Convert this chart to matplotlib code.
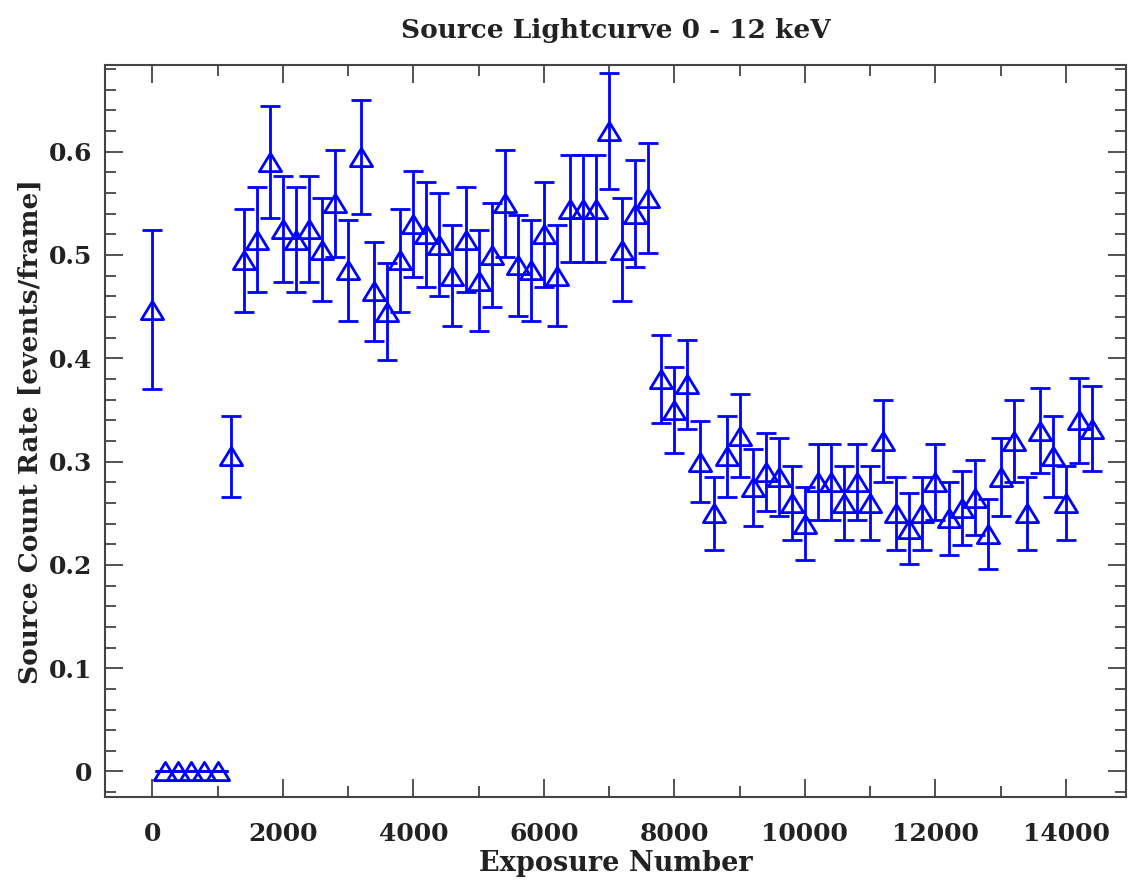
import matplotlib
matplotlib.use("Agg")
import matplotlib.pyplot as plt
from matplotlib.path import Path
from matplotlib.ticker import MultipleLocator

# exposure number of each bin
exposure = [0, 200, 400, 600, 800, 1000, 1200, 1400, 1600, 1800,
            2000, 2200, 2400, 2600, 2800, 3000, 3200, 3400, 3600, 3800,
            4000, 4200, 4400, 4600, 4800, 5000, 5200, 5400, 5600, 5800,
            6000, 6200, 6400, 6600, 6800, 7000, 7200, 7400, 7600, 7800,
            8000, 8200, 8400, 8600, 8800, 9000, 9200, 9400, 9600, 9800,
            10000, 10200, 10400, 10600, 10800, 11000, 11200, 11400, 11600, 11800,
            12000, 12200, 12400, 12600, 12800, 13000, 13200, 13400, 13600, 13800,
            14000, 14200, 14400]

# source count rate [events/frame]
rate = [0.447, 0.0, 0.0, 0.0, 0.0, 0.0, 0.305, 0.495, 0.515, 0.590,
        0.525, 0.515, 0.525, 0.505, 0.550, 0.485, 0.595, 0.465, 0.445, 0.495,
        0.530, 0.520, 0.510, 0.480, 0.515, 0.475, 0.500, 0.550, 0.490, 0.485,
        0.520, 0.480, 0.545, 0.545, 0.545, 0.620, 0.505, 0.540, 0.555, 0.380,
        0.350, 0.375, 0.300, 0.250, 0.305, 0.325, 0.275, 0.290, 0.285, 0.260,
        0.240, 0.280, 0.280, 0.260, 0.280, 0.260, 0.320, 0.250, 0.235, 0.250,
        0.280, 0.245, 0.255, 0.265, 0.230, 0.285, 0.320, 0.250, 0.330, 0.305,
        0.260, 0.340, 0.332]

# 1-sigma errors
rate_err = [0.077, 0.0, 0.0, 0.0, 0.0, 0.0, 0.039, 0.050, 0.051, 0.054,
            0.051, 0.051, 0.051, 0.050, 0.052, 0.049, 0.055, 0.048, 0.047, 0.050,
            0.051, 0.051, 0.050, 0.049, 0.051, 0.049, 0.050, 0.052, 0.049, 0.049,
            0.051, 0.049, 0.052, 0.052, 0.052, 0.056, 0.050, 0.052, 0.053, 0.043,
            0.042, 0.043, 0.039, 0.0355, 0.039, 0.040, 0.037, 0.038, 0.038, 0.036,
            0.035, 0.037, 0.037, 0.036, 0.037, 0.036, 0.040, 0.0355, 0.0345, 0.0355,
            0.037, 0.035, 0.036, 0.0365, 0.034, 0.038, 0.040, 0.0355, 0.041, 0.039,
            0.036, 0.041, 0.041]

plt.rcParams['font.family'] = ['DejaVu Serif']
plt.rcParams['font.weight'] = 'bold'

fig = plt.figure(figsize=(11.28, 8.83), dpi=100)
ax = fig.add_axes([0.0931, 0.0974, 0.9055, 0.8286])

# open triangle, a bit wider than tall
tri = Path([(-1, -0.82), (1, -0.82), (0, 0.82), (-1, -0.82)],
           [Path.MOVETO, Path.LINETO, Path.LINETO, Path.CLOSEPOLY])
ax.errorbar(exposure, rate, yerr=rate_err, fmt='none', ecolor='#0000ff',
            elinewidth=2, capsize=7, capthick=2)
ax.plot(exposure, rate, linestyle='none', marker=tri, markersize=16,
        markerfacecolor='none', markeredgecolor='#0000ff', markeredgewidth=2)

ax.set_xlim(-724, 14926)
ax.set_ylim(-0.0247, 0.6836)
ax.xaxis.set_major_locator(MultipleLocator(2000))
ax.xaxis.set_minor_locator(MultipleLocator(1000))
ax.yaxis.set_major_locator(MultipleLocator(0.1))
ax.yaxis.set_minor_locator(MultipleLocator(0.02))
ax.yaxis.set_major_formatter(plt.FuncFormatter(lambda v, p: '0' if abs(v) < 1e-9 else f'{v:.1f}'))

for s in ax.spines.values():
    s.set_color('#444444')
    s.set_linewidth(1.5)
ax.tick_params(which='both', direction='in', top=True, right=True,
               color='#444444', width=1.3, labelsize=18, labelcolor='#222222')
ax.tick_params(which='major', length=13)
ax.tick_params(which='minor', length=8)
ax.tick_params(axis='x', pad=18)
ax.tick_params(axis='y', pad=9)

ax.set_title('Source Lightcurve 0 - 12 keV', fontsize=19, fontweight='bold',
             color='#222222', pad=20)
ax.set_xlabel('Exposure Number', fontsize=19.5, fontweight='bold', color='#222222', labelpad=3)
ax.set_ylabel('Source Count Rate [events/frame]', fontsize=19, fontweight='bold',
              color='#222222', labelpad=5)

fig.savefig('out.png', dpi=100)
